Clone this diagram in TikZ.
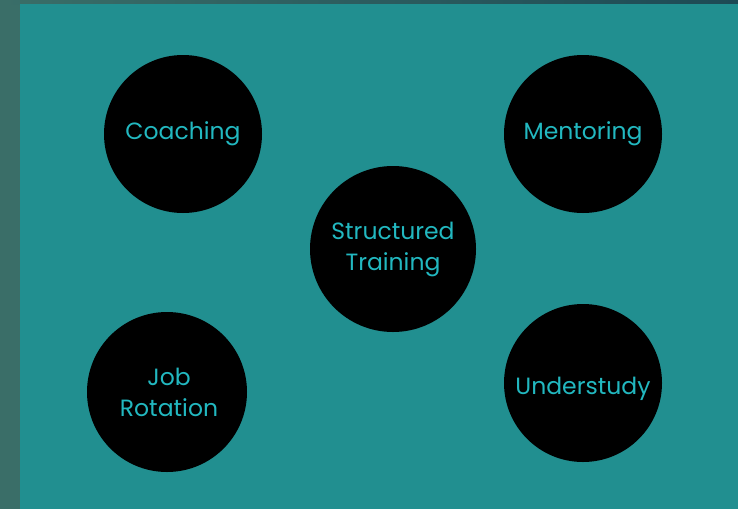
\documentclass[tikz,border=0pt]{standalone}
\usepackage{fontspec}
\setmainfont{Poppins}
\usepackage{tikz}
\usetikzlibrary{positioning}
\definecolor{backteal}{RGB}{33,143,144}
\definecolor{edgeteal}{RGB}{58,110,104}
\definecolor{topteal}{RGB}{29,74,85}
\definecolor{labelcyan}{RGB}{34,184,192}

\begin{document}
\begin{tikzpicture}[x=1pt,y=-1pt,
    method/.style={circle, fill=black, minimum size=#1, inner sep=0pt,
      text=labelcyan, align=center, font=\fontsize{23.5}{31}\selectfont}]
    % Background
    \useasboundingbox (0,0) rectangle (738,509);
    \fill[edgeteal] (0,0) rectangle (738,509);
    \shade[left color=edgeteal, right color=topteal] (0,0) rectangle (738,4);
    \fill[backteal] (20,4) rectangle (738,509);

    % Methods
    \node[method=158pt] (coaching) at (183,134) {Coaching};
    \node[method=158pt] (mentoring) at (583,134) {Mentoring};
    \node[method=166pt] (structured) at (393,249) {Structured\\Training};
    \node[method=160pt] (rotation) at (167,392) {\hspace*{4pt}Job\\\hspace*{4pt}Rotation};
    \node[method=158pt] (understudy) at (583,383) {\raisebox{-6pt}[\height][\depth]{Understudy}};

\end{tikzpicture}
\end{document}
